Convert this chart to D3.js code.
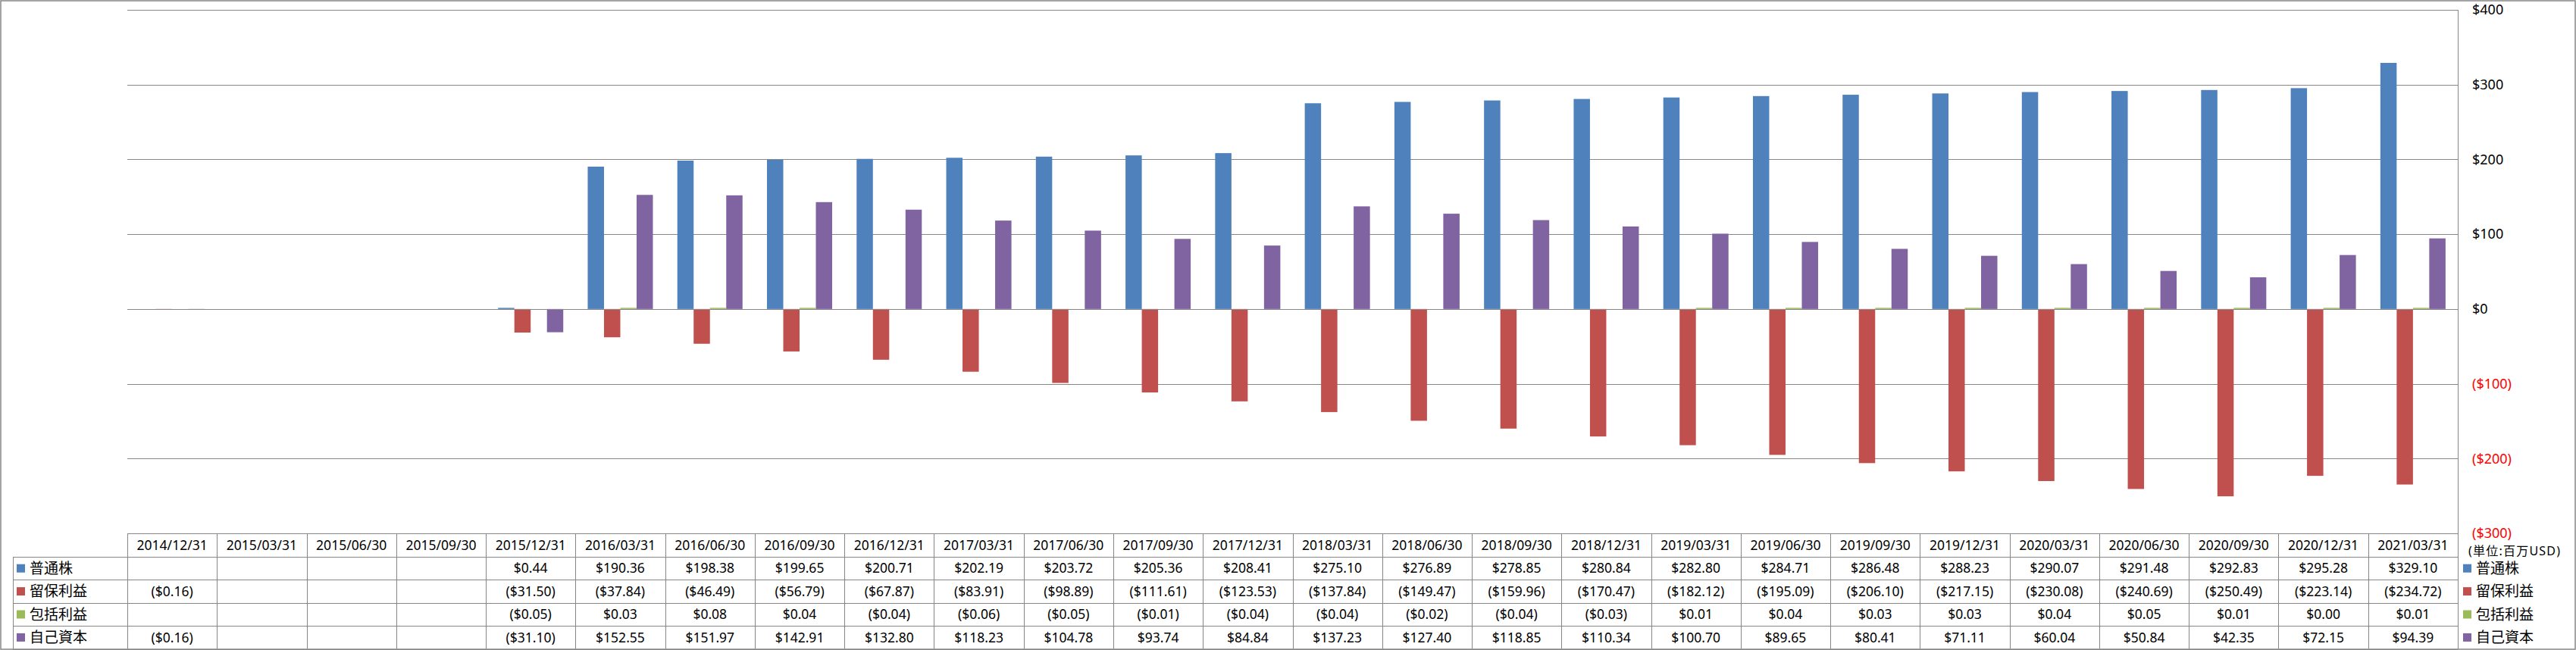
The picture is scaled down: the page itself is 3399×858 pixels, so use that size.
<!DOCTYPE html>
<html>
<head>
<meta charset="utf-8">
<script src="https://cdn.jsdelivr.net/npm/d3@7"></script>
<style>
  html, body { margin: 0; padding: 0; background: #fff; }
  text { font-family: "Noto Sans", "Noto Sans CJK JP", sans-serif; }
</style>
</head>
<body>
<div id="chart"></div>
<script>
const categories = ['2014/12/31', '2015/03/31', '2015/06/30', '2015/09/30', '2015/12/31', '2016/03/31',
  '2016/06/30', '2016/09/30', '2016/12/31', '2017/03/31', '2017/06/30', '2017/09/30', '2017/12/31',
  '2018/03/31', '2018/06/30', '2018/09/30', '2018/12/31', '2019/03/31', '2019/06/30', '2019/09/30',
  '2019/12/31', '2020/03/31', '2020/06/30', '2020/09/30', '2020/12/31', '2021/03/31'];

const seriesNames = ['普通株', '留保利益', '包括利益', '自己資本'];
const seriesColors = ['#4f81bd', '#c0504d', '#9bbb59', '#8064a2'];

const commonStock = [null, null, null, null, 0.44, 190.36, 198.38, 199.65, 200.71, 202.19, 203.72, 205.36,
  208.41, 275.10, 276.89, 278.85, 280.84, 282.80, 284.71, 286.48, 288.23, 290.07, 291.48, 292.83, 295.28, 329.10];
const retainedEarnings = [-0.16, null, null, null, -31.50, -37.84, -46.49, -56.79, -67.87, -83.91, -98.89,
  -111.61, -123.53, -137.84, -149.47, -159.96, -170.47, -182.12, -195.09, -206.10, -217.15, -230.08, -240.69,
  -250.49, -223.14, -234.72];
const comprehensiveIncome = [null, null, null, null, -0.05, 0.03, 0.08, 0.04, -0.04, -0.06, -0.05, -0.01,
  -0.04, -0.04, -0.02, -0.04, -0.03, 0.01, 0.04, 0.03, 0.03, 0.04, 0.05, 0.01, 0.00, 0.01];
const equity = [-0.16, null, null, null, -31.10, 152.55, 151.97, 142.91, 132.80, 118.23, 104.78, 93.74, 84.84,
  137.23, 127.40, 118.85, 110.34, 100.70, 89.65, 80.41, 71.11, 60.04, 50.84, 42.35, 72.15, 94.39];

const yTicks = [400, 300, 200, 100, 0, -100, -200, -300];
const unitLabel = '(単位:百万USD)';

const seriesValues = [commonStock, retainedEarnings, comprehensiveIncome, equity];

const width = 3399;
const height = 858;
const gridColor = '#878787';

const svg = d3.select('#chart')
  .append('svg')
  .attr('width', width)
  .attr('height', height);

// outer frame
svg.append('rect')
  .attr('x', 1).attr('y', 1)
  .attr('width', width - 2).attr('height', height - 2)
  .attr('fill', '#fff')
  .attr('stroke', gridColor)
  .attr('stroke-width', 1.5);

const plotLeft = 168;
const plotRight = 3243;

const x = d3.scaleBand()
  .domain(categories)
  .range([plotLeft, plotRight]);
const bw = x.bandwidth();

const xs = d3.scaleBand()
  .domain(seriesNames)
  .range([bw * 0.75 / 5.5, bw * 4.75 / 5.5]);

const y = d3.scaleLinear()
  .domain([-300, 400])
  .range([704, 13]);

const crisp = (v) => Math.round(v) + 0.5;

// gridlines
svg.append('g')
  .selectAll('line')
  .data(yTicks)
  .enter().append('line')
  .attr('x1', plotLeft)
  .attr('x2', plotRight)
  .attr('y1', (d) => crisp(y(d)))
  .attr('y2', (d) => crisp(y(d)))
  .attr('stroke', gridColor)
  .attr('stroke-width', 1);

// bars
const barData = [];
seriesValues.forEach((vals, si) => {
  vals.forEach((v, ci) => {
    if (v !== null) barData.push({series: seriesNames[si], color: seriesColors[si], cat: categories[ci], value: v});
  });
});

svg.append('g')
  .selectAll('rect')
  .data(barData)
  .enter().append('rect')
  .attr('x', (d) => x(d.cat) + xs(d.series))
  .attr('width', xs.bandwidth())
  .attr('y', (d) => d.value >= 0 ? Math.min(y(d.value), y(0) - 1.5) : y(0))
  .attr('height', (d) => d.value >= 0 ? Math.max(y(0) - y(d.value), 1.5) : y(d.value) - y(0))
  .attr('fill', (d) => d.color);

// zero line over bars
svg.append('line')
  .attr('x1', plotLeft).attr('x2', plotRight)
  .attr('y1', crisp(y(0))).attr('y2', crisp(y(0)))
  .attr('stroke', gridColor);

// right axis
const yAxis = d3.axisRight(y)
  .tickValues(yTicks)
  .tickSize(0)
  .tickPadding(0)
  .tickFormat((d) => d < 0 ? `($${-d})` : `$${d}`);

const axisG = svg.append('g')
  .attr('transform', `translate(3262,0)`)
  .call(yAxis);
axisG.select('.domain').remove();
axisG.selectAll('text')
  .attr('font-size', 18)
  .attr('font-family', '"Noto Sans", sans-serif')
  .attr('fill', (d) => d < 0 ? '#ff0000' : '#000');

svg.append('line')
  .attr('x1', crisp(plotRight)).attr('x2', crisp(plotRight))
  .attr('y1', 13).attr('y2', 857)
  .attr('stroke', gridColor);

// data table
const tableTop = 704;
const headH = 31;
const rowH = 30.4;
const legendLeft = 17;
const fmt = d3.format(',.2f');
const money = (v) => v === null ? '' : (v < 0 ? `($${fmt(-v)})` : `$${fmt(v)}`);

const table = svg.append('g');

// horizontal lines
table.append('line')
  .attr('x1', plotLeft).attr('x2', plotRight)
  .attr('y1', crisp(tableTop)).attr('y2', crisp(tableTop))
  .attr('stroke', gridColor);
d3.range(seriesNames.length + 1).forEach((i) => {
  const yy = crisp(tableTop + headH + i * rowH);
  table.append('line')
    .attr('x1', legendLeft).attr('x2', plotRight)
    .attr('y1', yy).attr('y2', yy)
    .attr('stroke', gridColor);
});

// vertical lines
table.selectAll('.vline')
  .data(categories)
  .enter().append('line')
  .attr('class', 'vline')
  .attr('x1', (d) => crisp(x(d)))
  .attr('x2', (d) => crisp(x(d)))
  .attr('y1', tableTop)
  .attr('y2', tableTop + headH + seriesNames.length * rowH)
  .attr('stroke', gridColor);
table.append('line')
  .attr('x1', crisp(legendLeft)).attr('x2', crisp(legendLeft))
  .attr('y1', tableTop + headH)
  .attr('y2', tableTop + headH + seriesNames.length * rowH)
  .attr('stroke', gridColor);

// header labels
table.selectAll('.cat')
  .data(categories)
  .enter().append('text')
  .attr('class', 'cat')
  .attr('x', (d) => x(d) + bw / 2)
  .attr('y', tableTop + headH / 2)
  .attr('dy', '0.35em')
  .attr('text-anchor', 'middle')
  .attr('font-size', 17.5)
  .text((d) => d);

// rows
seriesNames.forEach((name, si) => {
  const cy = tableTop + headH + si * rowH + rowH / 2;
  table.append('rect')
    .attr('x', 22).attr('y', cy - 5.5)
    .attr('width', 11).attr('height', 11)
    .attr('fill', seriesColors[si]);
  table.append('text')
    .attr('x', 39).attr('y', cy)
    .attr('dy', '0.35em')
    .attr('font-size', 19)
    .text(name);
  table.selectAll(`.v${si}`)
    .data(seriesValues[si])
    .enter().append('text')
    .attr('class', `v${si}`)
    .attr('x', (d, i) => x(categories[i]) + bw / 2)
    .attr('y', cy)
    .attr('dy', '0.35em')
    .attr('text-anchor', 'middle')
    .attr('font-size', 17.5)
    .text((d) => money(d));

  // right legend
  svg.append('rect')
    .attr('x', 3250).attr('y', cy - 5.5)
    .attr('width', 11).attr('height', 11)
    .attr('fill', seriesColors[si]);
  svg.append('text')
    .attr('x', 3267).attr('y', cy)
    .attr('dy', '0.35em')
    .attr('font-size', 19)
    .text(name);
});

svg.append('text')
  .attr('x', 3257)
  .attr('y', 727)
  .attr('dy', '0.35em')
  .attr('font-size', 16)
  .attr('textLength', 121)
  .attr('lengthAdjust', 'spacing')
  .text(unitLabel);
</script>
</body>
</html>
